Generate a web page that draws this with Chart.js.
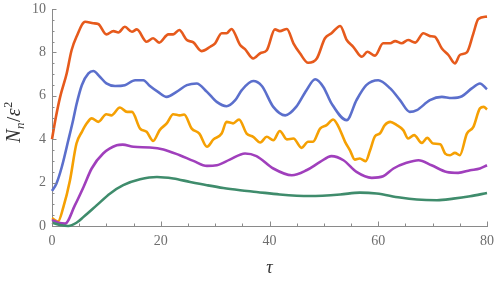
<!DOCTYPE html>
<html>
<head>
<meta charset="utf-8">
<script src="https://cdn.jsdelivr.net/npm/chart.js@4"></script>
<style>
  html, body { margin: 0; padding: 0; background: #fff; }
  #wrap { width: 496px; height: 282px; }
</style>
</head>
<body>
<div id="wrap"><canvas id="chart" width="496" height="282"></canvas></div>
<script>
// values, tau vs N_n / eps^2
const redTau = [0, 0.7, 1.5, 2.7, 3.6, 4.5, 6.1, 7.6, 8.5, 10, 11.3, 12.2, 13.4, 14.7, 15.6, 17.4, 18.6, 19.7, 21.4, 22.3, 23.4, 24.8, 26, 27.5, 29.1, 30, 31.2, 32.1, 33, 34.6, 35.5, 37, 38.3, 39.5, 41, 41.9, 43.2, 44.4, 45.6, 47.1, 48.7, 50.2, 51.4, 53, 54.2, 55.4, 57, 58, 59.4, 60.9, 62.2, 63.1, 64.3, 65.5, 66.8, 68.3, 69.5, 70.4, 71.7, 72.9, 74.1, 75, 76.3, 77.5, 78.4, 80];
const redN = [4.0, 5.0, 5.95, 7.03, 8.1, 8.72, 9.41, 9.34, 9.31, 8.83, 8.98, 8.92, 9.18, 8.95, 9.06, 8.49, 8.65, 8.45, 8.83, 8.83, 9.03, 8.57, 8.46, 8.06, 8.26, 8.42, 8.88, 8.88, 9.08, 8.34, 8.15, 7.72, 7.96, 8.1, 9.06, 8.98, 9.08, 8.42, 7.96, 7.52, 7.72, 8.65, 8.88, 9.22, 8.57, 8.26, 7.8, 8.03, 7.85, 8.42, 8.42, 8.52, 8.42, 8.57, 8.45, 8.88, 8.75, 8.72, 8.18, 7.88, 7.49, 7.88, 8.0, 8.88, 9.54, 9.65];

const blueTau = [0, 0.8, 1.8, 3.0, 3.9, 4.5, 5.5, 6.7, 7.6, 8.8, 10, 11.6, 13.4, 15.3, 16.8, 18, 19.5, 21.1, 22.9, 24.8, 26.6, 28.5, 30.3, 32.1, 33.7, 34.9, 37, 38.6, 40.7, 42.9, 44.9, 46.8, 48.4, 49.9, 51.4, 54.2, 56, 57.8, 60, 62.2, 64, 65.8, 67.1, 69.5, 71.7, 73.5, 75.4, 77.2, 78.7, 80];
const blueN = [1.62, 1.95, 2.72, 3.95, 4.9, 5.6, 6.5, 7.03, 7.14, 6.88, 6.57, 6.45, 6.49, 6.72, 6.72, 6.45, 6.18, 5.95, 6.18, 6.49, 6.57, 6.18, 5.72, 5.52, 5.8, 6.26, 6.68, 6.45, 5.49, 5.1, 5.49, 6.26, 6.76, 6.41, 5.65, 4.88, 5.8, 6.49, 6.72, 6.34, 5.8, 5.26, 5.34, 5.8, 5.95, 5.9, 5.98, 6.34, 6.57, 6.3];

const orangeTau = [0, 1.1, 2.1, 3.3, 4.5, 5.5, 6.4, 7.3, 8.5, 10, 10.9, 12.5, 13.8, 14.7, 16.2, 17.4, 18.6, 19.8, 21.1, 22.3, 23.5, 24.3, 25.7, 27.1, 28.5, 29.7, 31.2, 32.1, 33.3, 34.4, 35.8, 37, 38.3, 39.5, 40.7, 41.9, 43.2, 44.4, 45.9, 47.1, 48, 49.3, 50.5, 51.7, 52.7, 53.9, 54.8, 55.7, 56.6, 57.7, 58.5, 59.4, 60.3, 61.2, 62.2, 63.4, 64.6, 65.5, 66.6, 68, 69, 70.1, 71.4, 72.3, 73.2, 74.1, 75, 76.3, 77.5, 78.7, 79.4, 80];
const orangeN = [0.36, 0.2, 0.88, 2.1, 3.8, 4.34, 4.73, 4.96, 4.8, 5.15, 5.1, 5.46, 5.26, 5.26, 4.49, 4.34, 3.92, 4.42, 4.73, 5.15, 5.1, 5.14, 4.49, 4.26, 3.65, 3.99, 4.26, 4.8, 4.73, 4.91, 4.26, 4.11, 3.85, 4.11, 3.95, 4.38, 3.99, 4.03, 3.6, 3.88, 3.88, 4.49, 4.65, 4.91, 4.57, 3.88, 3.49, 3.06, 3.11, 2.99, 3.49, 4.14, 4.26, 4.65, 4.8, 4.65, 4.42, 4.03, 4.19, 3.83, 4.06, 3.8, 3.77, 3.34, 3.26, 3.37, 3.26, 4.26, 4.57, 5.42, 5.49, 5.37];

const purpleTau = [0, 1.2, 2.4, 4.2, 5.8, 7.3, 9.4, 11.9, 13, 15, 18, 20.5, 23.5, 26, 28.5, 30.3, 32.7, 35.5, 37.6, 40.7, 44.1, 46.8, 49.3, 51.4, 53.6, 56, 58.8, 60.9, 62.8, 65.2, 67.4, 69.8, 72.6, 74.7, 76.9, 78.7, 80];
const purpleN = [0.28, 0.15, 0.11, 0.95, 1.8, 2.65, 3.34, 3.72, 3.75, 3.65, 3.62, 3.53, 3.26, 3.0, 2.77, 2.8, 3.06, 3.34, 3.22, 2.65, 2.34, 2.57, 2.95, 3.22, 3.03, 2.49, 2.22, 2.29, 2.65, 2.91, 3.03, 2.8, 2.49, 2.45, 2.57, 2.65, 2.8];

const greenTau = [0, 1.5, 3, 4.5, 5.8, 8.2, 10.7, 13.1, 16.2, 19.3, 22.3, 25.4, 28.5, 31.5, 34.6, 37.6, 41.9, 47.4, 53, 56.6, 59.7, 64, 67.1, 70.8, 73.8, 76.9, 80];
const greenN = [0.15, 0.05, 0.0, 0.15, 0.42, 0.95, 1.5, 1.88, 2.15, 2.26, 2.19, 2.03, 1.88, 1.75, 1.65, 1.57, 1.45, 1.38, 1.45, 1.54, 1.5, 1.31, 1.22, 1.19, 1.26, 1.37, 1.52];

const xTicks = [0, 20, 40, 60, 80];
const yTicks = [0, 2, 4, 6, 8, 10];

const axisGray = '#8a8a8a';
const labelGray = '#6e6e6e';
const serif = "'Liberation Serif', 'DejaVu Serif', serif";

function toPoints(xs, ys) {
    return xs.map((x, i) => ({ x: x, y: ys[i] }));
}

function series(xs, ys, color) {
    return {
        data: toPoints(xs, ys),
        borderColor: color,
        borderWidth: 2.6,
        pointRadius: 0,
        fill: false,
        cubicInterpolationMode: 'monotone',
        clip: 6
    };
}

// Mathematica style inward ticks + minor ticks, and the y title
const frameExtras = {
    id: 'frameExtras',
    afterDatasetsDraw(chart) {
        const ctx = chart.ctx;
        const xs = chart.scales.x;
        const ys = chart.scales.y;
        const area = chart.chartArea;
        ctx.save();
        ctx.strokeStyle = axisGray;
        ctx.lineWidth = 1;
        for (let v = 0; v <= 80; v += 5) {
            const px = Math.round(xs.getPixelForValue(v)) + 0.5;
            const len = xTicks.includes(v) ? 4.5 : 2.5;
            ctx.beginPath();
            ctx.moveTo(px, area.bottom);
            ctx.lineTo(px, area.bottom - len);
            ctx.stroke();
        }
        for (let v = 0; v <= 10; v += 0.5) {
            const py = Math.round(ys.getPixelForValue(v)) + 0.5;
            const len = yTicks.includes(v) ? 4.5 : 2.5;
            ctx.beginPath();
            ctx.moveTo(area.left, py);
            ctx.lineTo(area.left + len, py);
            ctx.stroke();
        }

        // y title: N_n / eps^2, rotated
        const parts = [
            { t: 'N', font: 'italic 20px ' + serif, dy: 0 },
            { t: 'n', font: 'italic 13px ' + serif, dy: 4 },
            { t: '/', font: '19px ' + serif, dy: 0 },
            { t: 'ε', font: 'italic 20px ' + serif, dy: 0 },
            { t: '2', font: '12px ' + serif, dy: -8 }
        ];
        ctx.translate(20, 122);
        ctx.rotate(-Math.PI / 2);
        ctx.fillStyle = '#333';
        ctx.textBaseline = 'alphabetic';
        let total = 0;
        parts.forEach(p => { ctx.font = p.font; p.w = ctx.measureText(p.t).width; total += p.w + 0.5; });
        let cx = -total / 2;
        parts.forEach(p => {
            ctx.font = p.font;
            ctx.fillText(p.t, cx, p.dy);
            cx += p.w + 0.5;
        });
        ctx.restore();
    }
};

const config = {
    type: 'line',
    data: {
        datasets: [
            series(greenTau, greenN, '#3f8c6c'),
            series(purpleTau, purpleN, '#a03fbc'),
            series(orangeTau, orangeN, '#f5a003'),
            series(blueTau, blueN, '#5b6fcc'),
            series(redTau, redN, '#e65a1c')
        ]
    },
    options: {
        responsive: false,
        animation: false,
        events: [],
        layout: { padding: { left: 0, right: 9, top: 9, bottom: 0 } },
        plugins: { legend: { display: false }, tooltip: { enabled: false } },
        scales: {
            x: {
                type: 'linear',
                min: 0,
                max: 80,
                afterFit: s => { s.height = 56; s.paddingLeft = 0; s.paddingRight = 0; },
                afterBuildTicks: s => { s.ticks = xTicks.map(v => ({ value: v })); },
                grid: { display: false, drawTicks: false },
                border: { display: true, color: axisGray, width: 1 },
                ticks: { color: labelGray, padding: 7, font: { family: serif, size: 14 }, maxRotation: 0 },
                title: { display: true, text: 'τ', color: '#333', font: { family: serif, size: 18, style: 'italic' }, padding: { top: 0, bottom: 3 } }
            },
            y: {
                type: 'linear',
                min: 0,
                max: 10,
                afterFit: s => { s.width = 52; s.paddingTop = 0; s.paddingBottom = 0; },
                afterBuildTicks: s => { s.ticks = yTicks.map(v => ({ value: v })); },
                grid: { display: false, drawTicks: false },
                border: { display: true, color: axisGray, width: 1 },
                ticks: { color: labelGray, padding: 6, font: { family: serif, size: 14 } }
            }
        }
    },
    plugins: [frameExtras]
};

new Chart(document.getElementById('chart'), config);
</script>
</body>
</html>
